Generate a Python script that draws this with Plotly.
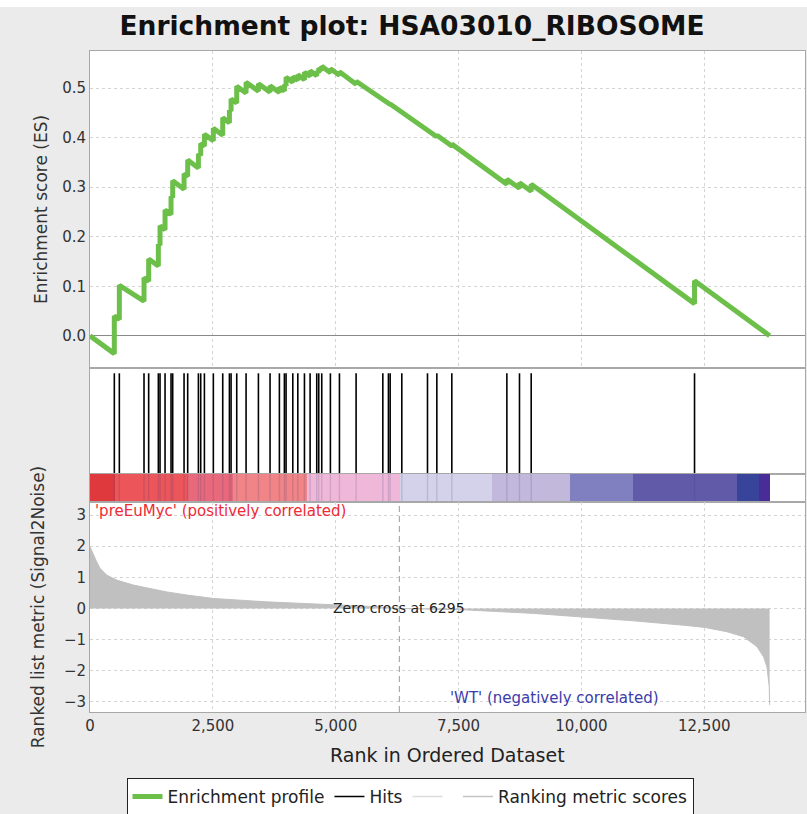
import plotly.graph_objects as go
from plotly.subplots import make_subplots

# ---------------- data ----------------
n_genes = 13830
zero_cross = 6295

hit_ranks = [495, 597, 1099, 1194, 1391, 1425, 1527, 1649, 1683, 1914, 1988, 2206, 2253,
             2328, 2510, 2701, 2837, 2871, 2986, 3176, 3427, 3664, 3854, 3956, 3990, 4127,
             4229, 4364, 4479, 4614, 4655, 4716, 4892, 5076, 5415, 5959, 6073, 6108, 6345,
             6868, 7058, 7363, 8483, 8740, 8978, 12302]
es_before = [-0.036, 0.033, 0.070, 0.110, 0.141, 0.183, 0.214, 0.245, 0.279, 0.296, 0.322,
             0.339, 0.364, 0.383, 0.394, 0.405, 0.430, 0.454, 0.470, 0.490, 0.494, 0.492,
             0.491, 0.494, 0.505, 0.512, 0.516, 0.517, 0.524, 0.525, 0.531, 0.536, 0.531,
             0.526, 0.508, 0.475, 0.4685, 0.467, 0.451, 0.414, 0.402, 0.383, 0.306, 0.298,
             0.292, 0.065]
es_after = [0.040, 0.102, 0.117, 0.155, 0.185, 0.222, 0.254, 0.281, 0.313, 0.327, 0.355,
            0.367, 0.388, 0.407, 0.419, 0.440, 0.456, 0.478, 0.504, 0.512, 0.509, 0.505,
            0.502, 0.507, 0.522, 0.523, 0.527, 0.532, 0.535, 0.534, 0.540, 0.544, 0.539,
            0.533, 0.514, 0.477, 0.4695, 0.468, 0.452, 0.416, 0.405, 0.387, 0.316, 0.309,
            0.306, 0.111]
es_start = 0.0
es_end = 0.0

metric_ranks = [0, 68, 136, 204, 339, 543, 882, 1221, 1560, 1968, 2510, 3596, 4614, 5632,
                6295, 7668, 9025, 10010, 11060, 12080, 12506, 12962, 13300, 13573, 13708,
                13776, 13823, 13830]
metric_values = [1.98, 1.71, 1.50, 1.29, 1.07, 0.91, 0.75, 0.64, 0.53, 0.43, 0.32, 0.21,
                 0.14, 0.07, 0.0, -0.05, -0.16, -0.27, -0.40, -0.54, -0.61, -0.75, -0.91,
                 -1.23, -1.56, -1.88, -2.52, -3.10]

band_start = [0, 509, 2001, 2918, 4411, 6311, 8178, 9772, 11040, 13166, 13605]
band_end = [509, 2001, 2918, 4411, 6311, 8178, 9772, 11040, 13166, 13605, 13830]
band_colors = ['#e0393d', '#ec5559', '#e8697b', '#f08486', '#f0b8d8', '#d4d2ea',
               '#c2b8dc', '#8080c0', '#605aa8', '#38439a', '#4a2c98']

x_ticks = [0, 2500, 5000, 7500, 10000, 12500]
es_ticks = [0.0, 0.1, 0.2, 0.3, 0.4, 0.5]
metric_ticks = [3, 2, 1, 0, -1, -2, -3]

# ---------------- build figure ----------------
FONT = "DejaVu Sans"
GRID = "#d4d4d4"
BORDER = "#a8a8a8"
DASH = "3px,3px"

fig = make_subplots(rows=4, cols=1, shared_xaxes=True, vertical_spacing=0,
                    row_heights=[317, 106, 28, 210])

# ES running-sum path
es_x = [0]
es_y = [es_start]
for r, b, a in zip(hit_ranks, es_before, es_after):
    es_x += [r, r]
    es_y += [b, a]
es_x.append(n_genes)
es_y.append(es_end)

fig.add_trace(go.Scatter(x=es_x, y=es_y, mode="lines", name="Enrichment profile",
                         line=dict(color="#6cc04a", width=5)), row=1, col=1)

# hits
hx, hy = [], []
for r in hit_ranks:
    hx += [r, r, None]
    hy += [0.0, 0.95, None]
fig.add_trace(go.Scatter(x=hx, y=hy, mode="lines", name="Hits",
                         line=dict(color="black", width=1.6)), row=2, col=1)

# colour band
fig.add_trace(go.Bar(x=[(s + e) / 2 for s, e in zip(band_start, band_end)],
                     width=[e - s for s, e in zip(band_start, band_end)],
                     y=[1] * len(band_start), base=0,
                     marker=dict(color=band_colors, line=dict(width=0)),
                     showlegend=False, hoverinfo="skip"), row=3, col=1)
bx, by = [], []
for r in hit_ranks:
    bx += [r, r, None]
    by += [0, 1, None]
fig.add_trace(go.Scatter(x=bx, y=by, mode="lines", showlegend=False,
                         line=dict(color="rgba(60,60,120,0.18)", width=1.4),
                         hoverinfo="skip"), row=3, col=1)

# ranked metric
fig.add_trace(go.Scatter(x=metric_ranks, y=metric_values, mode="lines", fill="tozeroy",
                         fillcolor="#c0c0c0", line=dict(color="#c0c0c0", width=1),
                         showlegend=False), row=4, col=1)

# legend-only entries
fig.add_trace(go.Scatter(x=[None], y=[None], mode="lines", name=" ",
                         line=dict(color="#dcdcdc", width=1.5)), row=4, col=1)
fig.add_trace(go.Scatter(x=[None], y=[None], mode="lines", name="Ranking metric scores",
                         line=dict(color="#c4c4c4", width=1.5)), row=4, col=1)

# axes
common_x = dict(range=[0, 14550], showline=True, mirror=True, linecolor=BORDER,
                linewidth=1, tickvals=x_ticks, zeroline=False, ticks="", automargin=False)
fig.update_xaxes(**common_x)
fig.update_xaxes(showgrid=True, gridcolor=GRID, griddash=DASH, showticklabels=False,
                 row=1, col=1)
fig.update_xaxes(showgrid=False, showticklabels=False, row=2, col=1)
fig.update_xaxes(showgrid=False, showticklabels=False, row=3, col=1)
fig.update_xaxes(showgrid=True, gridcolor=GRID, griddash=DASH, showticklabels=True,
                 tickformat=",d", tickfont=dict(family=FONT, size=15, color="#333"),
                 row=4, col=1)

fig.update_yaxes(range=[-0.065, 0.575], tickvals=es_ticks, tickformat=".1f",
                 showgrid=True, gridcolor=GRID, griddash=DASH,
                 zeroline=True, zerolinecolor="#8a8a8a", zerolinewidth=1.2,
                 showline=True, mirror=True, linecolor=BORDER, automargin=False,
                 tickfont=dict(family=FONT, size=15, color="#333"),
                 title=dict(text="Enrichment score (ES)",
                            font=dict(family=FONT, size=17, color="#333"), standoff=10),
                 row=1, col=1)
fig.update_yaxes(range=[0, 1], showgrid=False, zeroline=False, showticklabels=False,
                 showline=True, mirror=True, linecolor=BORDER, automargin=False,
                 row=2, col=1)
fig.update_yaxes(range=[0, 1], showgrid=False, zeroline=False, showticklabels=False,
                 showline=True, mirror=True, linecolor=BORDER, automargin=False,
                 row=3, col=1)
fig.update_yaxes(range=[-3.33, 3.42], tickvals=metric_ticks, showgrid=True,
                 gridcolor=GRID, griddash=DASH, zeroline=False,
                 showline=True, mirror=True, linecolor=BORDER, automargin=False,
                 tickfont=dict(family=FONT, size=15, color="#333"),
                 title=dict(text="Ranked list metric (Signal2Noise)",
                            font=dict(family=FONT, size=17, color="#333"), standoff=14),
                 row=4, col=1)

# zero-cross dashed line
fig.add_shape(type="line", x0=zero_cross, x1=zero_cross, y0=0, y1=1,
              xref="x4", yref="y4 domain",
              line=dict(color="#9a9a9a", width=1, dash="6px,4px"))

# white strip at the very top of the window
fig.add_shape(type="rect", xref="paper", yref="paper", x0=-0.2, x1=1.2,
              y0=1 + 44 / 661, y1=1 + 60 / 661, fillcolor="white", line=dict(width=0),
              layer="above")

fig.add_annotation(x=60, y=3.12, xref="x4", yref="y4", text="'preEuMyc' (positively correlated)",
                   showarrow=False, xanchor="left", yanchor="middle",
                   font=dict(family=FONT, size=15, color="#ee2a36"))
fig.add_annotation(x=zero_cross, y=0, xref="x4", yref="y4", text="Zero cross at 6295",
                   showarrow=False, xanchor="center", yanchor="middle",
                   font=dict(family=FONT, size=14, color="#222"))
fig.add_annotation(x=11620, y=-2.88, xref="x4", yref="y4", text="'WT' (negatively correlated)",
                   showarrow=False, xanchor="right", yanchor="middle",
                   font=dict(family=FONT, size=15, color="#3c3caa"))
fig.add_annotation(x=0.5, y=-(755 - 712) / 661, xref="paper", yref="paper",
                   text="Rank in Ordered Dataset", showarrow=False,
                   xanchor="center", yanchor="middle",
                   font=dict(family=FONT, size=19, color="#222"))

fig.update_layout(
    width=807, height=814,
    margin=dict(l=90, r=2, t=51, b=102, autoexpand=False),
    paper_bgcolor="#ebebeb", plot_bgcolor="white",
    title=dict(text="<b>Enrichment plot: HSA03010_RIBOSOME</b>", x=412 / 807,
               xanchor="center", y=1 - 26 / 814, yanchor="middle",
               font=dict(family=FONT, size=26.5, color="#111")),
    showlegend=True,
    legend=dict(orientation="h", x=(410 - 90) / 715, xanchor="center",
                y=-(778 - 712) / 661, yanchor="top",
                bgcolor="white", bordercolor="#222", borderwidth=1,
                font=dict(family=FONT, size=17, color="#222"),
                itemwidth=30, tracegroupgap=0),
    barmode="overlay", bargap=0,
)

fig.write_html("out.html", config={"displayModeBar": False},
               post_script="document.body.style.margin='0';document.body.style.overflow='hidden';")
